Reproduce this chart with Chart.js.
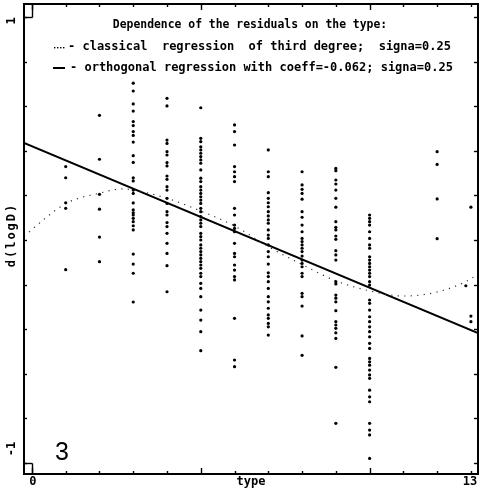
<!DOCTYPE html>
<html>
<head>
<meta charset="utf-8">
<style>
  html, body { margin: 0; padding: 0; background: #fff; }
  #wrap { width: 482px; height: 493px; position: relative; }
</style>
<script src="https://cdn.jsdelivr.net/npm/chart.js@4.4.0/dist/chart.umd.min.js"></script>
</head>
<body>
<div id="wrap"><canvas id="chart"></canvas></div>
<script>
// residuals d(logD), one array per type column
const type1 = [0.329, 0.279, 0.167, 0.142, -0.133];
const type2 = [0.559, 0.362, 0.205, 0.138, 0.013, -0.097];
const type3 = [0.703, 0.668, 0.610, 0.578, 0.531, 0.513, 0.486, 0.469, 0.439, 0.378, 0.348, 0.279, 0.265, 0.224,
  0.209, 0.166, 0.135, 0.122, 0.112, 0.097, 0.082, 0.064, 0.045, -0.063, -0.108, -0.149, -0.278];
const type4 = [0.635, 0.601, 0.448, 0.433, 0.396, 0.381, 0.347, 0.332, 0.287, 0.272, 0.239, 0.224, 0.187, 0.164,
  0.127, 0.112, 0.078, 0.060, 0.030, -0.015, -0.060, -0.115, -0.232];
const type5 = [0.593, 0.456, 0.441, 0.418, 0.404, 0.389, 0.374, 0.359, 0.344, 0.314, 0.277, 0.262, 0.239, 0.224,
  0.209, 0.194, 0.179, 0.164, 0.142, 0.127, 0.105, 0.090, 0.075, 0.060, 0.030, 0.015, 0.000, -0.022, -0.037,
  -0.052, -0.067, -0.082, -0.097, -0.112, -0.127, -0.149, -0.164, -0.194, -0.217, -0.254, -0.314, -0.359, -0.411, -0.496];
const type6 = [0.516, 0.486, 0.426, 0.329, 0.306, 0.284, 0.262, 0.142, 0.112, 0.067, 0.052, 0.037, -0.015, -0.060,
  -0.075, -0.112, -0.135, -0.164, -0.179, -0.351, -0.538, -0.568];
const type7 = [0.404, 0.306, 0.284, 0.212, 0.187, 0.167, 0.149, 0.127, 0.108, 0.090, 0.075, 0.045, 0.022, 0.007,
  -0.022, -0.052, -0.075, -0.108, -0.147, -0.164, -0.187, -0.217, -0.254, -0.277, -0.306, -0.336, -0.351, -0.374,
  -0.389, -0.426];
const type8 = [0.306, 0.247, 0.227, 0.209, 0.183, 0.127, 0.102, 0.067, 0.037, 0.007, -0.007, -0.022, -0.037, -0.052,
  -0.072, -0.090, -0.105, -0.120, -0.149, -0.164, -0.239, -0.254, -0.296, -0.430, -0.517];
const type9 = [0.321, 0.311, 0.269, 0.251, 0.224, 0.187, 0.147, 0.082, 0.057, 0.045, 0.018, 0.003, -0.048, -0.067,
  -0.090, -0.187, -0.197, -0.247, -0.261, -0.277, -0.317, -0.366, -0.381, -0.396, -0.416, -0.441, -0.571, -0.822];
const type10 = [0.112, 0.097, 0.082, 0.067, 0.037, 0.007, -0.022, -0.037, -0.075, -0.090, -0.105, -0.120, -0.135,
  -0.149, -0.164, -0.187, -0.202, -0.269, -0.284, -0.314, -0.344, -0.366, -0.389, -0.411, -0.434, -0.463, -0.486,
  -0.531, -0.546, -0.561, -0.583, -0.605, -0.620, -0.673, -0.703, -0.725, -0.822, -0.852, -0.874, -0.979];
const type12 = [0.396, 0.339, 0.184, 0.006];
const type12b = [-0.205];
const type13 = [0.147, -0.341, -0.366];

const columnTypes = [1, 2, 3, 4, 5, 6, 7, 8, 9, 10, 12, 12.85, 13];
const columnValues = [type1, type2, type3, type4, type5, type6, type7, type8, type9, type10, type12, type12b, type13];

// classical regression of third degree (dotted)
const cubicX = [-0.235, 1, 2, 2.7, 3, 4, 5, 6, 7, 8, 9, 10, 11, 12, 13, 13.21];
const cubicY = [0.018, 0.163, 0.21, 0.229, 0.224, 0.187, 0.13, 0.063, -0.03, -0.11, -0.183, -0.228, -0.251, -0.233, -0.174, -0.15];

// orthogonal regression, coeff = -0.062 (solid)
const orthoX = [-0.235, 13.21];
const orthoY = [0.435, -0.417];

const xTickValues = [0, 1, 2, 3, 4, 5, 6, 7, 8, 9, 10, 11, 12, 13];
const xMajorTicks = [0, 5, 10];
const xTickLabels = ["0", "13"];
const yTickValues = [-1, -0.8, -0.6, -0.4, -0.2, 0, 0.2, 0.4, 0.6, 0.8, 1];
const yTickLabels = ["1", "-1"];

const chartTitle = "Dependence of the residuals on the type:";
const legendCubic = "- classical  regression  of third degree;  signa=0.25";
const legendOrtho = "- orthogonal regression with coeff=-0.062; signa=0.25";

const points = [];
columnTypes.forEach((t, i) => {
  columnValues[i].forEach((v) => points.push({ x: t, y: v }));
});

function line(ctx, x1, y1, x2, y2) {
  ctx.beginPath();
  ctx.moveTo(x1, y1);
  ctx.lineTo(x2, y2);
  ctx.stroke();
}

const framePlugin = {
  id: "frame",
  afterDatasetsDraw(chart) {
    const { ctx, chartArea: a } = chart;
    const sx = chart.scales.x;
    const sy = chart.scales.y;
    ctx.save();
    ctx.strokeStyle = "#000";
    ctx.fillStyle = "#000";
    ctx.lineWidth = 2;
    ctx.strokeRect(a.left, a.top, a.right - a.left, a.bottom - a.top);

    ctx.lineWidth = 1.4;
    xTickValues.forEach((t) => {
      const px = Math.round(sx.getPixelForValue(t)) + 0.5;
      const len = xMajorTicks.includes(t) ? 6 : 3;
      line(ctx, px, a.bottom, px, a.bottom - len);
      line(ctx, px, a.top, px, a.top + len);
    });
    yTickValues.forEach((v) => {
      const py = Math.round(sy.getPixelForValue(v)) + 0.5;
      line(ctx, a.left, py, a.left + 3, py);
      line(ctx, a.right, py, a.right - 4, py);
    });

    // small corner boxes where x=0 meets y=+1 / y=-1
    const x0 = Math.round(sx.getPixelForValue(0)) + 0.5;
    const yTop = Math.round(sy.getPixelForValue(1)) + 0.5;
    const yBot = Math.round(sy.getPixelForValue(-1)) + 0.5;
    line(ctx, a.left, yTop, x0, yTop);
    line(ctx, x0, a.top, x0, yTop);
    line(ctx, a.left, yBot, x0, yBot);
    line(ctx, x0, a.bottom, x0, yBot);

    // title and legend
    ctx.textBaseline = "middle";
    ctx.textAlign = "center";
    ctx.font = "bold 11.4px 'DejaVu Sans Mono'";
    ctx.fillText(chartTitle, 250, 25);
    ctx.textAlign = "left";
    ctx.font = "bold 12px 'DejaVu Sans Mono'";
    ctx.fillText(legendCubic, 68, 47);
    ctx.fillText(legendOrtho, 70, 68);
    [54, 57, 60, 63].forEach((dx) => ctx.fillRect(dx, 47, 1.4, 1.4));
    ctx.lineWidth = 2;
    line(ctx, 53, 68, 65, 68);

    // axis labels
    ctx.textAlign = "center";
    ctx.fillText(xTickLabels[0], sx.getPixelForValue(0) + 1, 482);
    ctx.fillText(xTickLabels[1], 470, 482);
    ctx.fillText("type", (a.left + a.right) / 2, 482);

    ctx.save();
    ctx.translate(12, 235);
    ctx.rotate(-Math.PI / 2);
    ctx.letterSpacing = "2px";
    ctx.fillText("d(logD)", 0, 0);
    ctx.restore();
    [[yTickLabels[0], 21], [yTickLabels[1], 449]].forEach(([txt, py]) => {
      ctx.save();
      ctx.translate(12, py);
      ctx.rotate(-Math.PI / 2);
      ctx.fillText(txt, 0, 0);
      ctx.restore();
    });

    ctx.font = "25px 'Liberation Sans'";
    ctx.fillText("3", 62, 453);
    ctx.restore();
  },
};

new Chart(document.querySelector("#chart"), {
  type: "scatter",
  data: {
    datasets: [
      {
        label: "residuals",
        data: points,
        pointRadius: 1.6,
        pointStyle: "circle",
        backgroundColor: "#000",
        borderWidth: 0,
      },
      {
        label: "third degree",
        type: "line",
        data: cubicX.map((x, i) => ({ x, y: cubicY[i] })),
        borderColor: "#333",
        borderWidth: 1.2,
        borderDash: [1.2, 5.3],
        cubicInterpolationMode: "monotone",
        pointRadius: 0,
        fill: false,
      },
      {
        label: "orthogonal",
        type: "line",
        data: orthoX.map((x, i) => ({ x, y: orthoY[i] })),
        borderColor: "#000",
        borderWidth: 2,
        pointRadius: 0,
        fill: false,
      },
    ],
  },
  options: {
    responsive: true,
    maintainAspectRatio: false,
    animation: false,
    layout: { padding: { left: 24, top: 4, right: 1, bottom: 19 } },
    plugins: { legend: { display: false }, tooltip: { enabled: false } },
    scales: {
      x: { type: "linear", min: -0.235, max: 13.21, display: false },
      y: { type: "linear", min: -1.049, max: 1.058, display: false },
    },
  },
  plugins: [framePlugin],
});
</script>
</body>
</html>
